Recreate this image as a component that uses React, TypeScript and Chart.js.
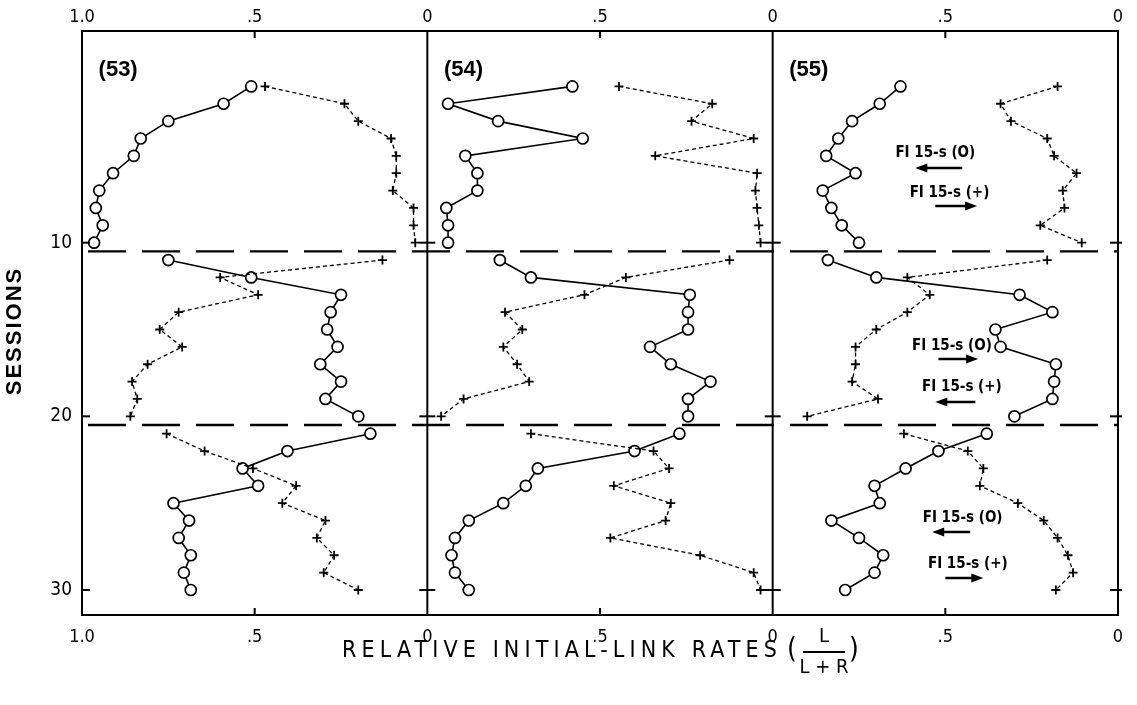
import React, { useEffect, useRef } from "react";
import { Chart, registerables } from "chart.js";

Chart.register(...registerables);

// ---------- data ----------
const sessions = [
  1, 2, 3, 4, 5, 6, 7, 8, 9, 10,
  11, 12, 13, 14, 15, 16, 17, 18, 19, 20,
  21, 22, 23, 24, 25, 26, 27, 28, 29, 30,
];
const phaseLength = 10;

const p53Circle = [0.51, 0.59, 0.75, 0.83, 0.85, 0.91, 0.95, 0.96, 0.94, 0.965, 0.75, 0.51, 0.25, 0.28, 0.29, 0.26, 0.31, 0.25, 0.295, 0.2, 0.165, 0.405, 0.535, 0.49, 0.735, 0.69, 0.72, 0.685, 0.705, 0.685];
const p53Cross = [0.47, 0.24, 0.2, 0.105, 0.09, 0.09, 0.1, 0.04, 0.04, 0.035, 0.13, 0.6, 0.49, 0.72, 0.775, 0.71, 0.81, 0.855, 0.84, 0.86, 0.755, 0.645, 0.505, 0.38, 0.42, 0.295, 0.32, 0.27, 0.3, 0.2];
const p54Circle = [0.58, 0.94, 0.795, 0.55, 0.89, 0.855, 0.855, 0.945, 0.94, 0.94, 0.79, 0.7, 0.24, 0.245, 0.245, 0.355, 0.295, 0.18, 0.245, 0.245, 0.27, 0.4, 0.68, 0.715, 0.78, 0.88, 0.92, 0.93, 0.92, 0.88];
const p54Cross = [0.445, 0.175, 0.235, 0.055, 0.34, 0.045, 0.05, 0.045, 0.04, 0.035, 0.125, 0.425, 0.545, 0.775, 0.725, 0.78, 0.74, 0.705, 0.895, 0.96, 0.7, 0.345, 0.3, 0.46, 0.295, 0.31, 0.47, 0.21, 0.055, 0.035];
const p55Circle = [0.63, 0.69, 0.77, 0.81, 0.845, 0.76, 0.855, 0.83, 0.8, 0.75, 0.84, 0.7, 0.285, 0.19, 0.355, 0.34, 0.18, 0.185, 0.19, 0.3, 0.38, 0.52, 0.615, 0.705, 0.69, 0.83, 0.75, 0.68, 0.705, 0.79];
const p55Cross = [0.175, 0.34, 0.31, 0.205, 0.185, 0.12, 0.16, 0.155, 0.225, 0.105, 0.205, 0.61, 0.545, 0.61, 0.7, 0.76, 0.76, 0.77, 0.695, 0.9, 0.62, 0.435, 0.39, 0.4, 0.29, 0.215, 0.175, 0.145, 0.13, 0.18];

const panelNames = ["(53)", "(54)", "(55)"];
const panelCircles = [p53Circle, p54Circle, p55Circle];
const panelCrosses = [p53Cross, p54Cross, p55Cross];

const xTickValues = [0, 0.5, 1];
const yTickValues = [10, 20, 30];
const phaseBreaks = [10.5, 20.5];

// annotations in panel (55): text, value, session
const noteTexts = ["FI 15-s (O)", "FI 15-s (+)", "FI 15-s (O)", "FI 15-s (+)", "FI 15-s (O)", "FI 15-s (+)"];
const noteValues = [0.529, 0.488, 0.481, 0.452, 0.45, 0.435];
const noteSessions = [4.83, 7.14, 15.95, 18.31, 25.85, 28.5];
const arrowFrom = [0.451, 0.529, 0.52, 0.413, 0.428, 0.5];
const arrowTo = [0.587, 0.408, 0.405, 0.529, 0.538, 0.39];
const arrowSessions = [5.7, 7.89, 16.7, 19.17, 26.66, 29.31];

const NARROW = "'Liberation Sans Narrow', 'DejaVu Sans Condensed', 'Roboto Condensed', 'Liberation Sans', sans-serif";
const SANS = "'Liberation Sans', 'DejaVu Sans', Arial, sans-serif";

const xTitle = "RELATIVE INITIAL-LINK RATES";

const decorPlugin = {
  id: "decor",
  beforeDatasetsDraw(chart: any) {
    const { ctx, chartArea: a, scales } = chart;
    ctx.save();
    ctx.strokeStyle = "#000";
    ctx.lineWidth = 2.4;
    ctx.setLineDash([38, 16]);
    phaseBreaks.forEach((b) => {
      const py = scales.y.getPixelForValue(b);
      ctx.beginPath();
      ctx.moveTo(a.left + 6, py);
      ctx.lineTo(a.right, py);
      ctx.stroke();
    });
    ctx.restore();
  },
  afterDraw(chart: any) {
    const { ctx, chartArea: a, scales } = chart;
    const y = scales.y;
    ctx.save();
    ctx.strokeStyle = "#000";
    ctx.fillStyle = "#000";
    ctx.lineWidth = 2;
    ctx.setLineDash([]);
    // frame
    ctx.strokeRect(a.left, a.top, a.right - a.left, a.bottom - a.top);
    // separators & ticks
    const edges: number[] = [];
    for (let p = 0; p < 3; p++) edges.push(scales["x" + p].getPixelForValue(1));
    edges.push(scales.x2.getPixelForValue(0));
    edges.forEach((ex, i) => {
      if (i > 0 && i < 3) {
        ctx.beginPath();
        ctx.moveTo(ex, a.top);
        ctx.lineTo(ex, a.bottom);
        ctx.stroke();
      }
      yTickValues.forEach((v) => {
        const py = y.getPixelForValue(v);
        ctx.beginPath();
        ctx.moveTo(i === 0 ? ex : ex - 8, py);
        ctx.lineTo(i === 3 ? ex + 4 : ex + 8, py);
        ctx.stroke();
      });
    });
    for (let p = 0; p < 3; p++) {
      const px = scales["x" + p].getPixelForValue(0.5);
      ctx.beginPath();
      ctx.moveTo(px, a.top);
      ctx.lineTo(px, a.top + 7);
      ctx.moveTo(px, a.bottom);
      ctx.lineTo(px, a.bottom - 7);
      ctx.stroke();
    }
    // panel names
    ctx.font = `bold 22px ${SANS}`;
    ctx.textAlign = "left";
    ctx.textBaseline = "middle";
    panelNames.forEach((n, p) => {
      ctx.fillText(n, scales["x" + p].getPixelForValue(0.952), y.getPixelForValue(0.05));
    });
    // notes
    const x2 = scales.x2;
    ctx.font = `bold 15px ${NARROW}`;
    ctx.textAlign = "center";
    noteTexts.forEach((t, i) => {
      ctx.fillText(t, x2.getPixelForValue(noteValues[i]), y.getPixelForValue(noteSessions[i]));
    });
    arrowFrom.forEach((f, i) => {
      const x0 = x2.getPixelForValue(f);
      const x1 = x2.getPixelForValue(arrowTo[i]);
      const py = y.getPixelForValue(arrowSessions[i]);
      const dir = Math.sign(x1 - x0);
      ctx.lineWidth = 2.5;
      ctx.beginPath();
      ctx.moveTo(x0, py);
      ctx.lineTo(x1 - dir * 8, py);
      ctx.stroke();
      ctx.beginPath();
      ctx.moveTo(x1, py);
      ctx.lineTo(x1 - dir * 12, py - 4.5);
      ctx.lineTo(x1 - dir * 12, py + 4.5);
      ctx.closePath();
      ctx.fill();
    });
    // y title
    ctx.save();
    ctx.translate(15, (a.top + a.bottom) / 2 + 8);
    ctx.rotate(-Math.PI / 2);
    ctx.font = `bold 22px ${SANS}`;
    (ctx as any).letterSpacing = "2px";
    ctx.textAlign = "center";
    ctx.textBaseline = "middle";
    ctx.fillText("SESSIONS", 0, 0);
    ctx.restore();
    // x title
    const cx = (a.left + a.right) / 2;
    const ty = a.bottom + 36;
    ctx.font = `500 23px ${NARROW}`;
    (ctx as any).letterSpacing = "0px";
    const w0 = ctx.measureText(xTitle).width;
    const targetW = 440;
    const sp = Math.max(0, (targetW - w0) / xTitle.length);
    (ctx as any).letterSpacing = `${sp.toFixed(2)}px`;
    ctx.textAlign = "right";
    ctx.textBaseline = "middle";
    ctx.fillText(xTitle, cx + 182, ty);
    (ctx as any).letterSpacing = "0px";
    ctx.font = `28px ${NARROW}`;
    ctx.textAlign = "center";
    ctx.fillText("(", cx + 192, ty);
    ctx.fillText(")", cx + 254, ty);
    ctx.font = `20px ${NARROW}`;
    ctx.fillText("L", cx + 224, ty - 14);
    ctx.fillText("L + R", cx + 224, ty + 17);
    ctx.lineWidth = 1.8;
    ctx.beginPath();
    ctx.moveTo(cx + 203, ty + 1);
    ctx.lineTo(cx + 245, ty + 1);
    ctx.stroke();
    ctx.restore();
  },
};

function buildDatasets() {
  const ds: any[] = [];
  for (let p = 0; p < 3; p++) {
    for (let ph = 0; ph < sessions.length / phaseLength; ph++) {
      const idx = sessions.slice(ph * phaseLength, (ph + 1) * phaseLength).map((_, i) => ph * phaseLength + i);
      ds.push({
        label: `${panelNames[p]} + ${ph}`,
        xAxisID: "x" + p,
        yAxisID: "y",
        showLine: true,
        data: idx.map((i) => ({ x: panelCrosses[p][i], y: sessions[i] })),
        borderColor: "#000",
        borderWidth: 1.3,
        borderDash: [4, 3],
        pointStyle: "cross",
        pointRadius: 4.5,
        pointBorderWidth: 1.8,
        pointBorderColor: "#000",
        pointBackgroundColor: "#000",
      });
      ds.push({
        label: `${panelNames[p]} O ${ph}`,
        xAxisID: "x" + p,
        yAxisID: "y",
        showLine: true,
        data: idx.map((i) => ({ x: panelCircles[p][i], y: sessions[i] })),
        borderColor: "#000",
        borderWidth: 1.6,
        pointStyle: "circle",
        pointRadius: 5.5,
        pointBorderWidth: 1.7,
        pointBorderColor: "#000",
        pointBackgroundColor: "#fff",
      });
    }
  }
  return ds;
}

function xScale(p: number, pos: "top" | "bottom") {
  return {
    type: "linear",
    position: pos,
    stack: pos,
    stackWeight: 1,
    min: 0,
    max: 1,
    reverse: true,
    grid: { display: false, drawTicks: false },
    border: { display: false },
    afterBuildTicks: (s: any) => {
      s.ticks = xTickValues.map((value) => ({ value }));
    },
    afterFit: (s: any) => {
      s.height = pos === "top" ? 31 : 90;
    },
    ticks: {
      autoSkip: false,
      maxRotation: 0,
      padding: pos === "top" ? 3 : 12,
      color: "#000",
      font: { family: NARROW, size: 18 },
      callback: (v: number) => (v === 1 ? (p === 0 ? "1.0" : "") : v === 0.5 ? ".5" : "0"),
    },
  };
}

export default function App() {
  const ref = useRef<HTMLCanvasElement | null>(null);
  useEffect(() => {
    document.body.style.margin = "0";
    const canvas = ref.current;
    if (!canvas) return;
    const scales: any = {
      y: {
        type: "linear",
        position: "left",
        min: -2.19,
        max: 31.44,
        reverse: true,
        grid: { display: false, drawTicks: false },
        border: { display: false },
        afterBuildTicks: (s: any) => {
          s.ticks = yTickValues.map((value) => ({ value }));
        },
        afterFit: (s: any) => {
          s.width = 82;
        },
        ticks: { padding: 10, color: "#000", font: { family: NARROW, size: 19 } },
      },
    };
    for (let p = 0; p < 3; p++) scales["x" + p] = xScale(p, "bottom");
    // top boxes are laid out in reverse order, so add them last-first
    for (let p = 2; p >= 0; p--) scales["t" + p] = xScale(p, "top");
    const chart = new Chart(canvas, {
      type: "scatter",
      data: { datasets: buildDatasets() },
      options: {
        responsive: false,
        animation: false,
        events: [],
        layout: { padding: { left: 0, right: 19, top: 0, bottom: 0 } },
        plugins: { legend: { display: false }, tooltip: { enabled: false } },
        scales,
      } as any,
      plugins: [decorPlugin],
    });
    return () => chart.destroy();
  }, []);
  return (
    <div style={{ width: 1137, height: 705, background: "#fff" }}>
      <canvas ref={ref} width={1137} height={705} />
    </div>
  );
}
